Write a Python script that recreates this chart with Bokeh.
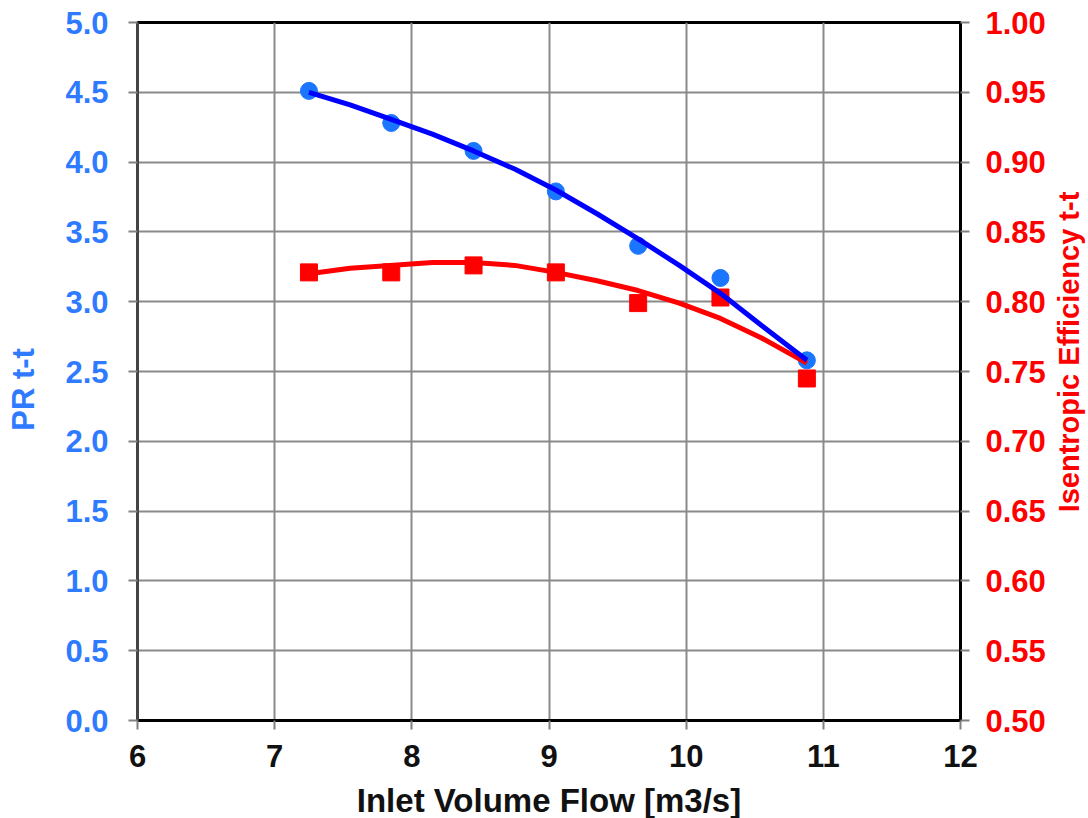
import math
from bokeh.plotting import figure
from bokeh.layouts import row
from bokeh.models import Range1d, LinearAxis, FixedTicker, NumeralTickFormatter
from bokeh.core.properties import value
from bokeh.embed import file_html
from bokeh.resources import INLINE

# Measured points
flow = [7.25, 7.85, 8.45, 9.05, 9.65, 10.25, 10.88]
pr_points = [4.51, 4.28, 4.08, 3.79, 3.40, 3.17, 2.58]
eff_points = [0.821, 0.821, 0.826, 0.821, 0.799, 0.803, 0.745]

# Trend curves
curve_flow = [7.25, 7.55, 7.84, 8.15, 8.45, 8.75, 9.05, 9.35, 9.65, 9.95, 10.25, 10.55, 10.88]
pr_curve = [4.50, 4.41, 4.31, 4.20, 4.08, 3.95, 3.80, 3.63, 3.45, 3.26, 3.06, 2.83, 2.58]
eff_curve = [0.820, 0.824, 0.826, 0.828, 0.828, 0.826, 0.821, 0.815, 0.808, 0.799, 0.788, 0.774, 0.756]

x_ticks = [6, 7, 8, 9, 10, 11, 12]
pr_ticks = [0.0, 0.5, 1.0, 1.5, 2.0, 2.5, 3.0, 3.5, 4.0, 4.5, 5.0]
eff_ticks = [0.50, 0.55, 0.60, 0.65, 0.70, 0.75, 0.80, 0.85, 0.90, 0.95, 1.00]

x_title = "Inlet Volume Flow [m3/s]"
left_title = ["PR t-t"]
right_title = ["Isentropic Efficiency t-t"]

BLUE_TXT = "#2F7BFF"
RED = "#FF0000"
FONT = "Liberation Sans"
H = 816

p = figure(output_backend="svg", toolbar_location=None,
           frame_width=823, frame_height=698,
           x_range=Range1d(6, 12), y_range=Range1d(0, 5),
           min_border_left=92, min_border_right=88,
           min_border_top=22, min_border_bottom=96)
p.extra_y_ranges = {"eff": Range1d(0.5, 1.0)}

p.background_fill_color = "white"
p.border_fill_color = "white"
p.outline_line_color = "black"
p.outline_line_width = 3

p.xgrid.ticker = FixedTicker(ticks=x_ticks)
p.ygrid.ticker = FixedTicker(ticks=pr_ticks)
for g in (p.xgrid, p.ygrid):
    g.grid_line_color = "#8a8a8a"
    g.grid_line_width = 2

xa = p.xaxis[0]
xa.ticker = FixedTicker(ticks=x_ticks)
xa.axis_label = x_title
ya = p.yaxis[0]
ya.ticker = FixedTicker(ticks=pr_ticks)
ya.formatter = NumeralTickFormatter(format="0.0")

ra = LinearAxis(y_range_name="eff", ticker=FixedTicker(ticks=eff_ticks),
                formatter=NumeralTickFormatter(format="0.00"))
p.add_layout(ra, "right")

for ax, col in ((xa, "#111111"), (ya, BLUE_TXT), (ra, RED)):
    ax.axis_line_color = "black"
    ax.axis_line_width = 3
    ax.major_tick_line_color = "#808080"
    ax.major_tick_line_width = 2
    ax.major_tick_out = 9
    ax.major_tick_in = 0
    ax.minor_tick_line_color = None
    ax.major_label_text_font = FONT
    ax.major_label_text_font_style = "bold"
    ax.major_label_text_font_size = "31px"
    ax.major_label_text_color = col
    ax.axis_label_text_font = FONT
    ax.axis_label_text_font_style = "bold"
    ax.axis_label_text_font_size = "33px"
    ax.axis_label_text_color = col
ya.axis_line_color = "#444444"
xa.major_label_standoff = 15
xa.axis_label_standoff = 12
ya.major_label_standoff = 20
ra.major_label_standoff = 16

p.scatter(flow, pr_points, marker="circle", size=17, color="#1A75FF")
p.scatter(flow, eff_points, marker="square", size=17, color=RED, y_range_name="eff")
p.line(curve_flow, eff_curve, line_color=RED, line_width=5, y_range_name="eff")
p.line(curve_flow, pr_curve, line_color="#0000FF", line_width=5)


def side_panel(width, text, cx, cy_from_top, color, size):
    s = figure(output_backend="svg", toolbar_location=None, title=None,
               x_axis_type=None, y_axis_type=None,
               width=width, height=H, x_range=Range1d(0, width),
               y_range=Range1d(0, H), min_border=0)
    s.outline_line_color = None
    s.background_fill_color = "white"
    s.border_fill_color = "white"
    s.text(x=[cx], y=[H - cy_from_top], text=text, angle=math.pi / 2,
           text_align="center", text_baseline="middle",
           text_font=value(FONT), text_font_style="bold",
           text_font_size=size, text_color=color)
    return s


left = side_panel(45, left_title, 23, 432, BLUE_TXT, "31px")
right = side_panel(40, right_title, 20, 388, RED, "29px")

layout = row(left, p, right)
open("out.html", "w").write(file_html(layout, INLINE))
